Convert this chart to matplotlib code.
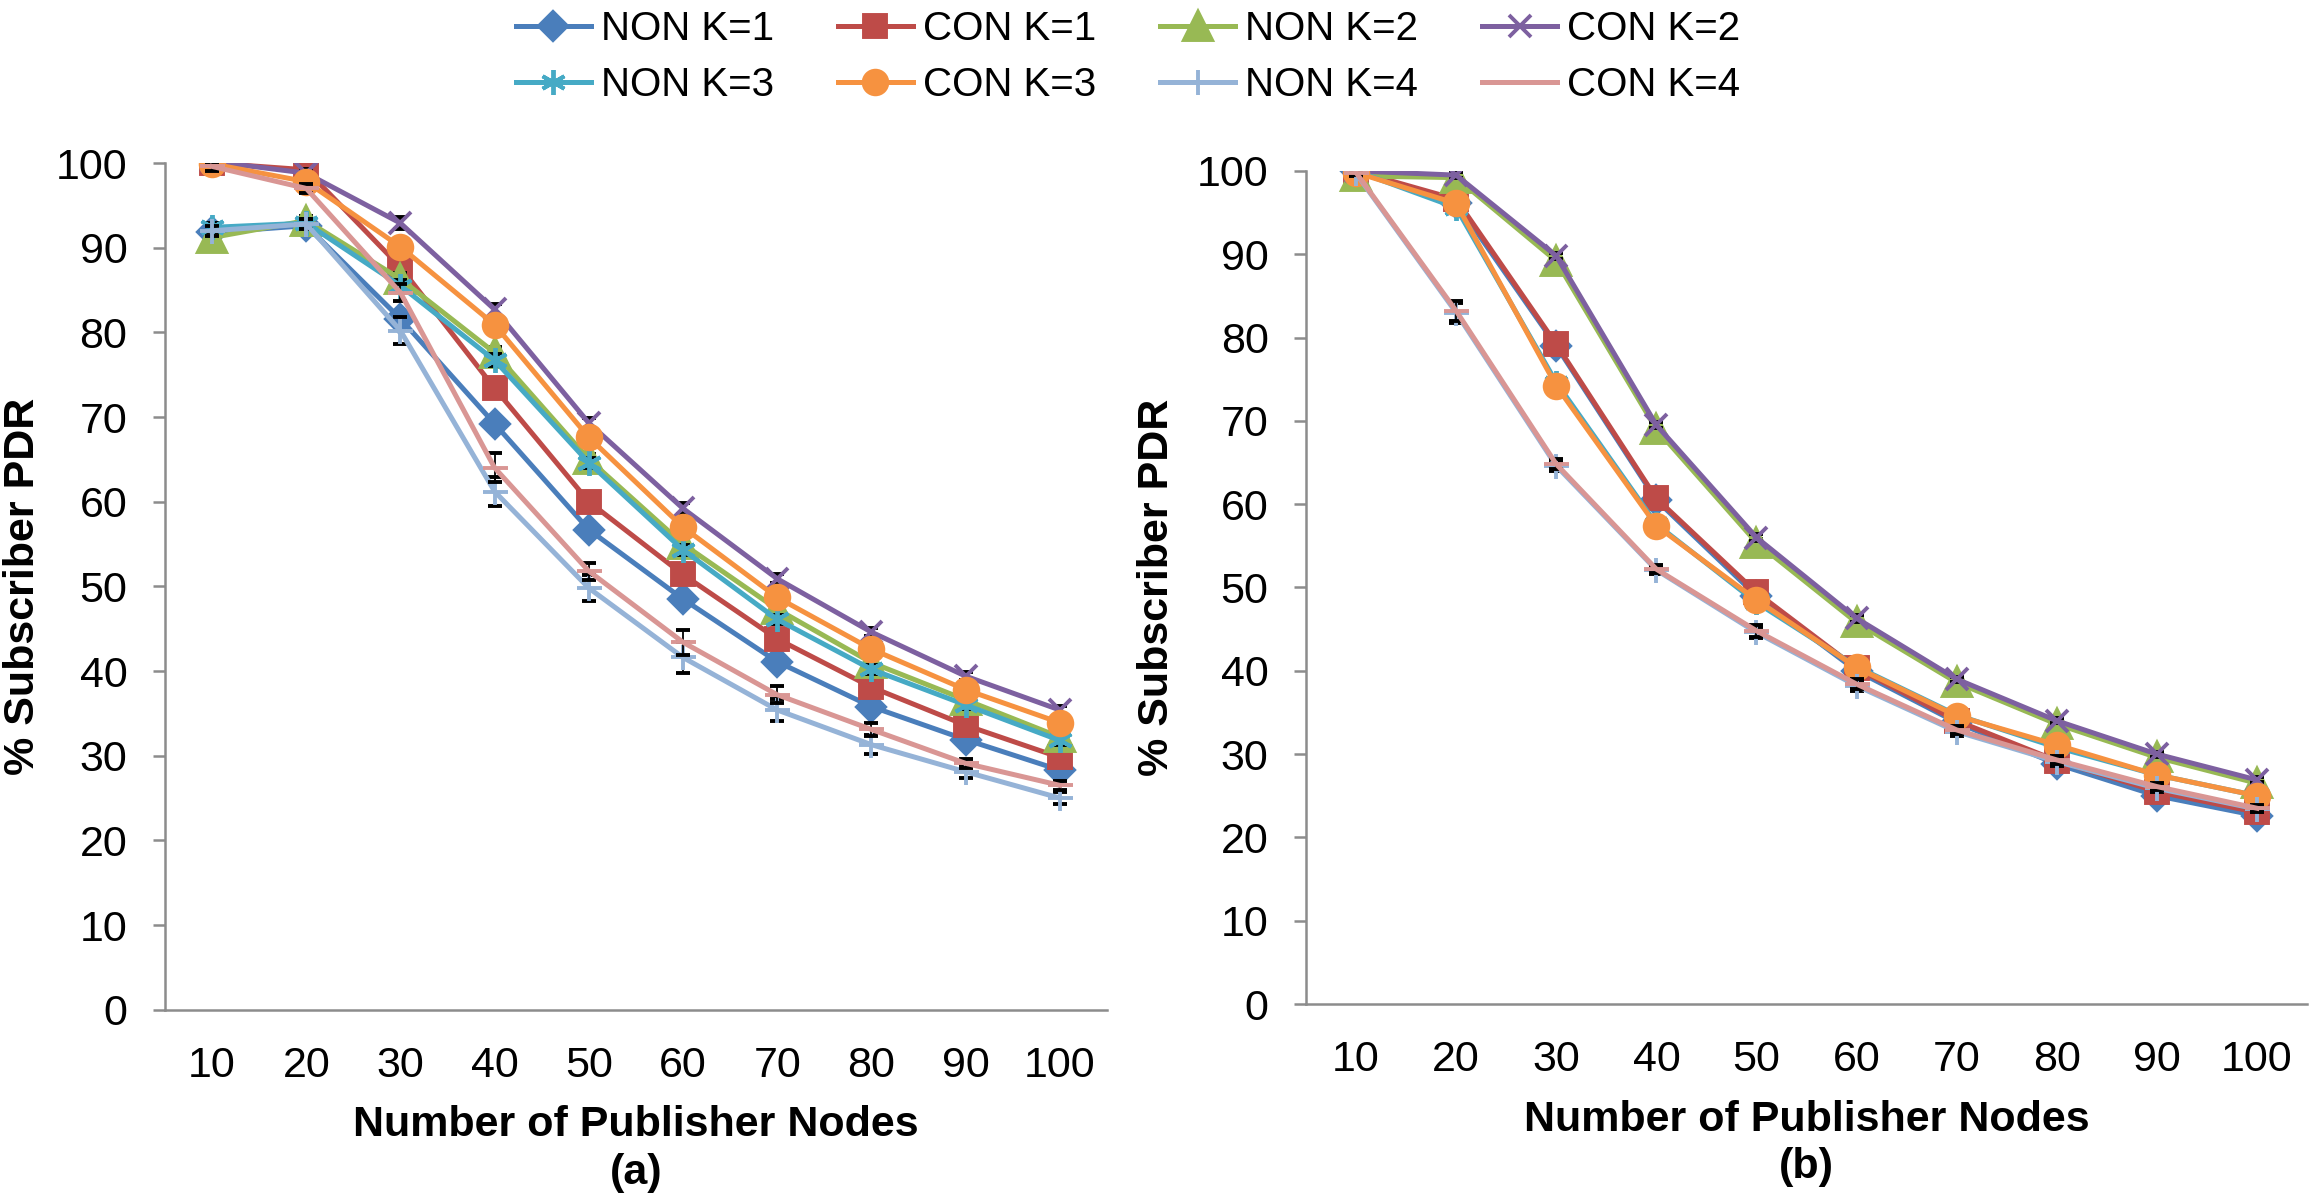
import numpy as np
import matplotlib
matplotlib.use("Agg")
import matplotlib.pyplot as plt

plt.rcParams['font.family'] = ['Liberation Sans', 'DejaVu Sans']

nodes = [10, 20, 30, 40, 50, 60, 70, 80, 90, 100]
labels = ["NON K=1", "CON K=1", "NON K=2", "CON K=2",
          "NON K=3", "CON K=3", "NON K=4", "CON K=4"]

# panel (a)
a_non1 = [91.8, 92.6, 81.6, 69.2, 56.7, 48.5, 41.1, 35.8, 31.9, 28.3]
a_con1 = [100.0, 99.2, 87.7, 73.4, 60.0, 51.4, 43.8, 38.1, 33.6, 29.8]
a_non2 = [91.2, 93.2, 86.3, 77.6, 65.0, 55.0, 47.3, 41.0, 36.6, 32.2]
a_con2 = [100.2, 98.8, 92.9, 82.7, 69.3, 59.2, 50.9, 44.6, 39.4, 35.4]
a_non3 = [92.4, 92.9, 85.5, 76.7, 64.6, 54.3, 46.1, 40.2, 36.0, 31.8]
a_con3 = [99.9, 97.8, 90.1, 80.9, 67.6, 57.0, 48.7, 42.6, 37.8, 33.9]
a_non4 = [92.0, 92.8, 80.2, 61.2, 49.8, 41.6, 35.4, 31.3, 28.1, 25.0]
a_con4 = [99.6, 97.0, 84.7, 64.0, 51.8, 43.4, 37.2, 33.1, 29.1, 26.5]

a_err_small = [0.5, 0.5, 0.7, 0.7, 0.6, 0.6, 0.5, 0.5, 0.5, 0.5]
a_err_non4 = [0.6, 0.6, 1.6, 1.7, 1.5, 1.8, 1.3, 1.1, 0.7, 0.7]
a_err_con4 = [0.5, 0.5, 1.0, 1.7, 1.0, 1.5, 1.0, 0.8, 0.5, 0.5]

# panel (b)
b_non1 = [100.0, 96.2, 79.0, 60.5, 49.0, 40.0, 33.8, 28.8, 25.0, 22.6]
b_con1 = [100.0, 96.6, 79.2, 60.7, 49.4, 40.3, 34.0, 29.2, 25.5, 23.0]
b_non2 = [99.4, 99.2, 89.2, 69.0, 55.4, 45.8, 38.6, 33.6, 29.6, 26.5]
b_con2 = [100.0, 99.5, 89.8, 69.5, 56.0, 46.3, 39.0, 34.0, 30.0, 26.9]
b_non3 = [100.0, 95.6, 74.6, 57.6, 48.2, 40.5, 34.7, 30.8, 27.5, 25.0]
b_con3 = [99.8, 96.1, 74.2, 57.4, 48.5, 40.4, 34.6, 31.1, 27.5, 25.0]
b_non4 = [99.7, 83.0, 64.6, 52.1, 44.6, 38.2, 32.7, 29.1, 25.9, 23.4]
b_con4 = [99.8, 83.2, 64.8, 52.2, 44.8, 38.4, 32.9, 29.3, 26.1, 23.5]

b_err_small = [0.3, 0.4, 0.4, 0.4, 0.4, 0.4, 0.3, 0.3, 0.3, 0.3]
b_err_4 = [0.3, 1.2, 0.6, 0.5, 0.7, 0.6, 0.5, 0.5, 0.4, 0.4]

colors = ["#4A7EBB", "#BE4B48", "#98B954", "#7D60A0",
          "#46AAC5", "#F69240", "#95B3D7", "#D99694"]
markers = ["D", "s", "^", "x", (6, 2, 0), "o", "+", "_"]
msizes = [14, 16, 20, 16, 18, 17, 18, 18]

fig = plt.figure(figsize=(23.14, 12.04), dpi=100)
ax1 = fig.add_axes([0.0713, 0.1614, 0.4070, 0.7032])
ax2 = fig.add_axes([0.5644, 0.1661, 0.4326, 0.6919])

panels = [
    (ax1, [a_non1, a_con1, a_non2, a_con2, a_non3, a_con3, a_non4, a_con4],
     [a_err_small] * 6 + [a_err_non4, a_err_con4], "(a)", -0.130),
    (ax2, [b_non1, b_con1, b_non2, b_con2, b_non3, b_con3, b_non4, b_con4],
     [b_err_small] * 6 + [b_err_4, b_err_4], "(b)", -0.129),
]

handles = []
for ax, series, errs, tag, ylab_x in panels:
    for i, (vals, err) in enumerate(zip(series, errs)):
        eb = ax.errorbar(nodes, vals, yerr=err, color=colors[i], lw=3.6,
                         marker=markers[i], ms=msizes[i], mec=colors[i],
                         mfc=colors[i], mew=2.8, ecolor="black",
                         elinewidth=1.3, capsize=5, capthick=1.3,
                         label=labels[i], zorder=3 + i)
        if ax is ax1:
            handles.append(eb[0])
    ax.set_xlim(5, 105)
    ax.set_ylim(0, 100)
    ax.set_xticks(nodes)
    ax.set_yticks(range(0, 101, 10))
    for s in ["top", "right"]:
        ax.spines[s].set_visible(False)
    for s in ["left", "bottom"]:
        ax.spines[s].set_color("#8C8C8C")
        ax.spines[s].set_linewidth(1.8)
    ax.tick_params(axis="y", length=9, width=1.8, color="#8C8C8C",
                   pad=18, labelsize=31)
    ax.tick_params(axis="x", length=0, pad=26, labelsize=31)
    ax.set_ylabel("% Subscriber PDR", fontsize=31, fontweight="bold")
    ax.yaxis.set_label_coords(ylab_x, 0.5)
    ax.set_xlabel("Number of Publisher Nodes\n" + tag, fontsize=31,
                  fontweight="bold", labelpad=14, linespacing=1.25)

# legend is filled row by row in the reference
order = [0, 4, 1, 5, 2, 6, 3, 7]
fig.legend(handles=[handles[k] for k in order],
           labels=[labels[k] for k in order], loc="upper center",
           bbox_to_anchor=(0.4875, 1.012), ncol=4, frameon=False,
           fontsize=29, handlelength=1.85, handletextpad=0.25,
           columnspacing=1.6, labelspacing=0.45, borderpad=0.1)

fig.savefig("out.png", dpi=100)
